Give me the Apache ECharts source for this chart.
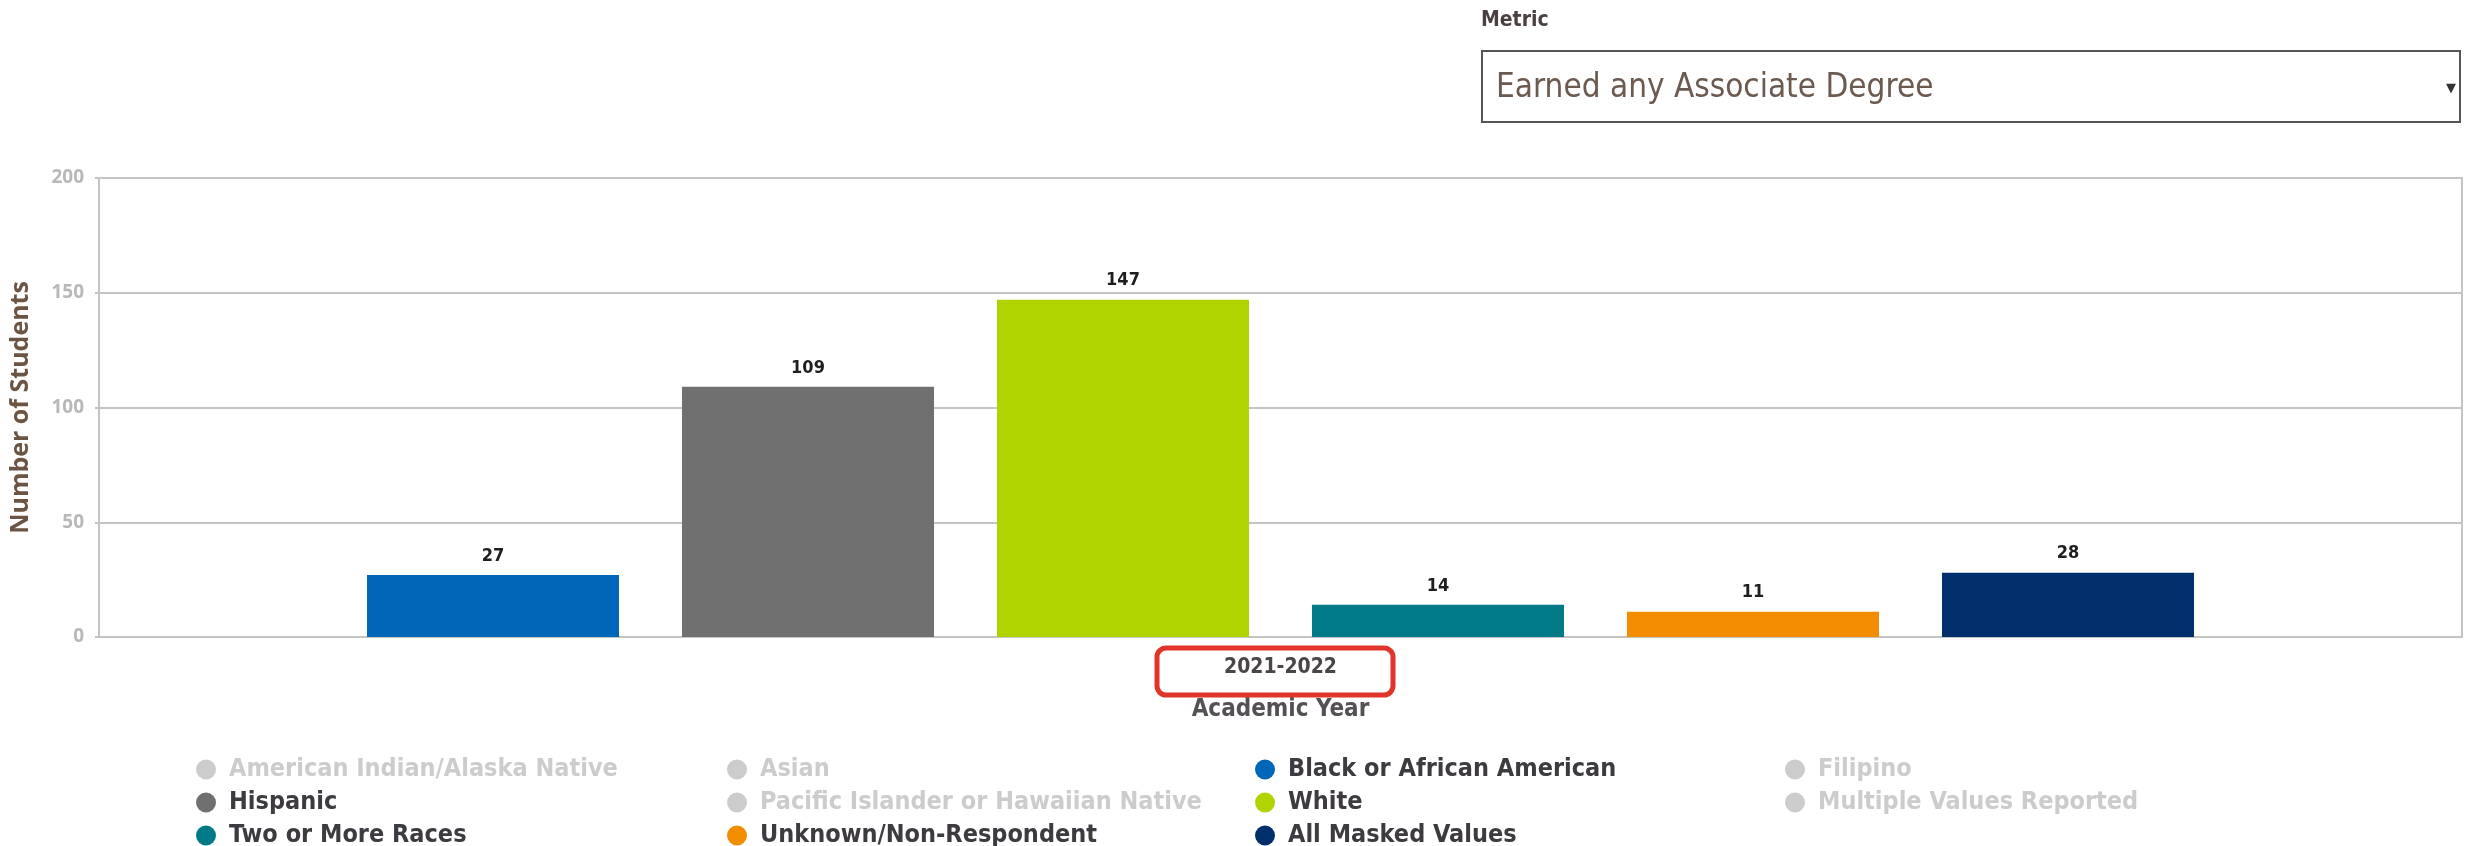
<!DOCTYPE html>
<html>
<head>
<meta charset="utf-8">
<script src="https://cdn.jsdelivr.net/npm/echarts@6/dist/echarts.min.js"></script>
<style>
html,body{margin:0;padding:0;background:#fff;}
#chart{width:2471px;height:846px;}
</style>
</head>
<body>
<div id="chart"></div>
<script>
const categories = ['2021-2022'];
const seriesNames = ['American Indian/Alaska Native','Asian','Black or African American','Filipino','Hispanic','Pacific Islander or Hawaiian Native','White','Multiple Values Reported','Two or More Races','Unknown/Non-Respondent','All Masked Values'];
const seriesValues = [null, null, 27, null, 109, null, 147, null, 14, 11, 28];
const seriesColors = ['#c8c8c8','#c8c8c8','#0066b8','#c8c8c8','#707070','#c8c8c8','#b0d400','#c8c8c8','#007a87','#f28c00','#002f6c'];
const hiddenNames = ['American Indian/Alaska Native','Asian','Filipino','Pacific Islander or Hawaiian Native','Multiple Values Reported'];
const yTicks = {min:0, max:200, interval:50};
const legendColumns = [
  ['American Indian/Alaska Native','Hispanic','Two or More Races'],
  ['Asian','Pacific Islander or Hawaiian Native','Unknown/Non-Respondent'],
  ['Black or African American','White','All Masked Values'],
  ['Filipino','Multiple Values Reported']
];
const legendLefts = [196, 727, 1255, 1785];
const metricLabel = 'Metric';
const metricValue = 'Earned any Associate Degree';

const narrow = "'Liberation Sans Narrow','DejaVu Sans Condensed','Roboto Condensed',sans-serif";
const chart = echarts.init(document.getElementById('chart'));

const selected = {};
seriesNames.forEach(n => selected[n] = hiddenNames.indexOf(n) < 0);

const legends = legendColumns.map((col, i) => ({
  orient: 'vertical',
  left: legendLefts[i],
  top: 757,
  height: 400,
  padding: 0,
  itemGap: 8,
  itemWidth: 20,
  itemHeight: 21,
  icon: 'circle',
  data: col,
  selected: Object.fromEntries(col.map(n => [n, selected[n]])),
  inactiveColor: '#cccccc',
  textStyle: {fontFamily: narrow, fontWeight: 'bold', fontSize: 25, lineHeight: 20, color: '#3d3a40', padding: [0,0,0,8]}
}));

const series = seriesNames.map((name, i) => ({
  name,
  type: 'bar',
  data: [seriesValues[i]],
  barWidth: 252,
  barGap: '25%',
  itemStyle: {color: seriesColors[i]},
  label: {show: true, position: 'top', distance: 10, fontFamily: narrow, fontWeight: 'bold', fontSize: 18, color: '#1e1e1e'}
}));

chart.setOption({
  animation: false,
  backgroundColor: '#ffffff',
  grid: {left: 98, right: 9, top: 178, bottom: 209, show: true, borderColor: '#c4c4c4', borderWidth: 2},
  legend: legends,
  xAxis: {
    type: 'category',
    data: categories,
    axisLine: {lineStyle: {color: '#c4c4c4', width: 2}},
    axisTick: {show: false},
    axisLabel: {margin: 20, fontFamily: narrow, fontWeight: 'bold', fontSize: 21, color: '#4a4548'},
    name: 'Academic Year',
    nameLocation: 'middle',
    nameGap: 61,
    nameTextStyle: {fontFamily: narrow, fontWeight: 'bold', fontSize: 24, color: '#555055'}
  },
  yAxis: {
    type: 'value',
    min: yTicks.min, max: yTicks.max, interval: yTicks.interval,
    axisLine: {show: true, lineStyle: {color: '#c4c4c4', width: 2}},
    axisTick: {show: true, length: 4, lineStyle: {color: '#c4c4c4', width: 2}},
    splitLine: {lineStyle: {color: '#c4c4c4', width: 2}},
    axisLabel: {margin: 15, fontFamily: "'Open Sans',sans-serif", fontWeight: 'bold', fontSize: 19, color: '#b8b8b8'},
    name: 'Number of Students',
    nameLocation: 'middle',
    nameGap: 66,
    nameRotate: 90,
    nameTextStyle: {fontFamily: "'Open Sans',sans-serif", fontWeight: 'bold', fontSize: 25, color: '#6b5444'}
  },
  graphic: [
    {type: 'text', left: 1481, top: 10, style: {text: metricLabel, font: "bold 21px 'Liberation Sans Narrow','DejaVu Sans Condensed',sans-serif", fill: '#4a4040'}},
    {type: 'rect', shape: {x: 1482, y: 51, width: 978, height: 71}, style: {fill: '#fff', stroke: '#555', lineWidth: 2}},
    {type: 'text', left: 1496, top: 72, style: {text: metricValue, font: "33px 'Liberation Sans Narrow','DejaVu Sans Condensed',sans-serif", fill: '#6b5a50'}},
    {type: 'text', left: 2446, top: 82, style: {text: '▼', font: "13px 'DejaVu Sans',sans-serif", fill: '#333'}},
    {type: 'rect', z: 100, shape: {x: 1157, y: 648, width: 236, height: 47, r: 9}, style: {fill: 'none', stroke: '#e0352b', lineWidth: 5}}
  ],
  series
});
</script>
</body>
</html>
